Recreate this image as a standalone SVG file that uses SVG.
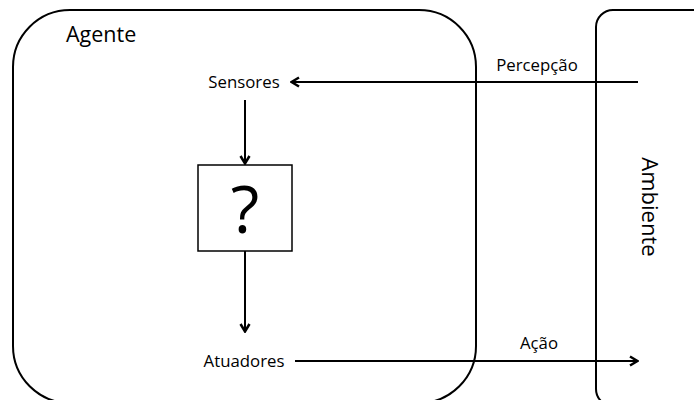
<svg xmlns="http://www.w3.org/2000/svg" width="694" height="400" viewBox="0 0 694 400">
<defs>
<style>
.box{fill:none;stroke:#000;stroke-width:2}
.t{font-family:"Open Sans","Noto Sans","Liberation Sans",sans-serif;fill:#000}
.s{font-size:16.8px}
.c{stroke:#000;stroke-width:2;fill:none}
</style>
<marker id="ah" viewBox="0 0 12 12" refX="11" refY="6" markerWidth="12" markerHeight="12" markerUnits="userSpaceOnUse" orient="auto">
<path d="M3,1.5 L10.5,6 L3,10.5" fill="none" stroke="#000" stroke-width="2.5"/>
</marker>
</defs>
<rect width="694" height="400" fill="#fff"/>
<g id="agente">
<rect class="box" x="13" y="10" width="463" height="393" rx="57" ry="57"/>
<text class="t" x="66" y="42" font-size="21.5">Agente</text>
</g>
<g id="ambiente">
<rect class="box" x="596" y="10" width="120" height="396" rx="17" ry="17"/>
<text class="t" font-size="22" transform="translate(642,207) rotate(90)" text-anchor="middle">Ambiente</text>
</g>
<g id="sensores">
<text class="t s" x="244" y="88" text-anchor="middle">Sensores</text>
</g>
<g id="funcao">
<rect x="198" y="165" width="94" height="86" fill="#fff" stroke="#000" stroke-width="1.5"/>
<text class="t" x="245" y="233" font-size="66" text-anchor="middle">?</text>
</g>
<g id="atuadores">
<text class="t s" x="244" y="367" text-anchor="middle">Atuadores</text>
</g>
<g id="connectors">
<line class="c" x1="638" y1="82" x2="291" y2="82" marker-end="url(#ah)"/>
<line class="c" x1="245" y1="100" x2="245" y2="164" marker-end="url(#ah)"/>
<line class="c" x1="245" y1="251" x2="245" y2="332" marker-end="url(#ah)"/>
<line class="c" x1="295" y1="361" x2="638" y2="361" marker-end="url(#ah)"/>
<text class="t s" x="537" y="71" text-anchor="middle">Percepção</text>
<text class="t s" x="539" y="349" text-anchor="middle">Ação</text>
</g>
</svg>
